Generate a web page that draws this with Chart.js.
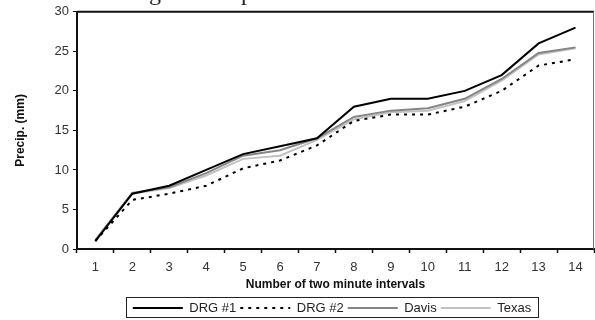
<!DOCTYPE html>
<html>
<head>
<meta charset="utf-8">
<script src="https://cdn.jsdelivr.net/npm/chart.js@4.4.0/dist/chart.umd.min.js"></script>
<style>
    html, body { margin: 0; padding: 0; background: #ffffff; }
    #wrap { width: 595px; height: 320px; }
</style>
</head>
<body>
<div id="wrap"><canvas id="precipChart" width="595" height="320"></canvas></div>
<script>
// ---- data ----
const intervals = ['1', '2', '3', '4', '5', '6', '7', '8', '9', '10', '11', '12', '13', '14'];
const drg1  = [1, 7, 8, 10, 12, 13, 14, 18, 19, 19, 20, 22, 26, 28];
const drg2  = [1, 6.2, 7, 8, 10.2, 11.2, 13.1, 16.2, 17, 17, 18, 20, 23.2, 24];
const davis = [1.1, 7.1, 7.8, 9.6, 11.8, 12.5, 14, 16.7, 17.5, 17.8, 19, 21.5, 24.8, 25.5];
const texas = [1.2, 7, 7.7, 9.3, 11.4, 11.8, 13.8, 16.4, 17.3, 17.5, 18.7, 21.3, 24.6, 25.4];
const yTicks = [0, 5, 10, 15, 20, 25, 30];

const FONT = "'Liberation Sans', Arial, sans-serif";

// move the legend under the plot centre, a bit lower, like the source
const legendShift = {
    id: 'legendShift',
    beforeDraw(chart) {
        const lg = chart.legend;
        if (lg._shifted) return;
        const dx = 332 - (lg.left + lg.right) / 2;
        const dy = 6.5;
        lg.left += dx; lg.right += dx;
        lg.top += dy; lg.bottom += dy;
        lg._shifted = true;
    }
};

// frame around the plot + box around the legend + cut-off caption at top
const framePlugin = {
    id: 'frame',
    afterDraw(chart) {
        const ctx = chart.ctx;
        const a = chart.chartArea;
        ctx.save();
        ctx.strokeStyle = '#111';
        ctx.lineWidth = 2;
        ctx.beginPath();
        ctx.moveTo(a.left, a.top);
        ctx.lineTo(a.right, a.top);
        ctx.stroke();
        ctx.strokeStyle = '#777';
        ctx.lineWidth = 1;
        ctx.beginPath();
        ctx.moveTo(a.right - 0.5, a.top);
        ctx.lineTo(a.right - 0.5, a.bottom);
        ctx.stroke();

        // legend box
        ctx.strokeStyle = '#222';
        ctx.lineWidth = 1;
        ctx.strokeRect(126.5, 297.5, 412, 20);

        // caption above chart, mostly cropped in the source
        ctx.fillStyle = '#222';
        ctx.font = "24px 'Liberation Serif', 'DejaVu Serif', serif";
        ctx.textBaseline = 'alphabetic';
        ctx.textAlign = 'left';
        const caption = 'Cumulative rainfall during the sample';
        const pre = ctx.measureText('Cumulative rainfall durin').width;
        ctx.fillText(caption, 149 - pre, 0);
        ctx.restore();
    }
};

// legend lines need the dataset dash, not the point style
function legendLabels(chart) {
    const items = Chart.defaults.plugins.legend.labels.generateLabels(chart);
    return items.map(item => {
        const ds = chart.data.datasets[item.datasetIndex];
        item.lineDash = ds.borderDash || [];
        item.strokeStyle = ds.borderColor;
        item.lineWidth = ds.borderWidth;
        return item;
    });
}

const ctx = document.getElementById('precipChart');

new Chart(ctx, {
    type: 'line',
    data: {
        labels: intervals,
        datasets: [
            { label: 'DRG #1', data: drg1, borderColor: '#000000', borderWidth: 2 },
            { label: 'DRG #2', data: drg2, borderColor: '#000000', borderWidth: 2, borderDash: [3, 5] },
            { label: 'Davis', data: davis, borderColor: '#858585', borderWidth: 2 },
            { label: 'Texas', data: texas, borderColor: '#c2c2c2', borderWidth: 2 }
        ]
    },
    options: {
        responsive: false,
        animation: false,
        layout: { padding: { top: 8, right: 1, left: 13, bottom: 2 } },
        elements: {
            point: { radius: 0, hoverRadius: 0 },
            line: { tension: 0, fill: false }
        },
        plugins: {
            legend: {
                position: 'bottom',
                labels: {
                    usePointStyle: true,
                    pointStyle: 'line',
                    pointStyleWidth: 50,
                    boxHeight: 10,
                    padding: 4,
                    color: '#222',
                    font: { size: 13, family: FONT },
                    generateLabels: legendLabels
                }
            },
            tooltip: { enabled: false }
        },
        scales: {
            x: {
                offset: true,
                grid: {
                    offset: true,
                    drawOnChartArea: false,
                    tickLength: 4,
                    color: '#111',
                    tickWidth: 1.5
                },
                border: { color: '#111', width: 2 },
                ticks: {
                    color: '#333',
                    padding: 8,
                    maxRotation: 0,
                    font: { size: 13, family: FONT, lineHeight: 1 }
                },
                title: {
                    display: true,
                    text: 'Number of two minute intervals',
                    color: '#111',
                    padding: { top: -3, bottom: 0 },
                    font: { size: 12, weight: 'bold', family: FONT, lineHeight: 1 }
                }
            },
            y: {
                min: 0,
                max: 30,
                afterBuildTicks(axis) {
                    axis.ticks = yTicks.map(v => ({ value: v }));
                },
                grid: {
                    drawOnChartArea: false,
                    tickLength: 4,
                    color: '#111'
                },
                border: { color: '#111', width: 2 },
                ticks: {
                    color: '#333',
                    padding: 4,
                    font: { size: 13, family: FONT }
                },
                title: {
                    display: true,
                    text: 'Precip. (mm)',
                    color: '#111',
                    padding: { top: 0, bottom: 23 },
                    font: { size: 12, weight: 'bold', family: FONT }
                }
            }
        }
    },
    plugins: [legendShift, framePlugin]
});
</script>
</body>
</html>
